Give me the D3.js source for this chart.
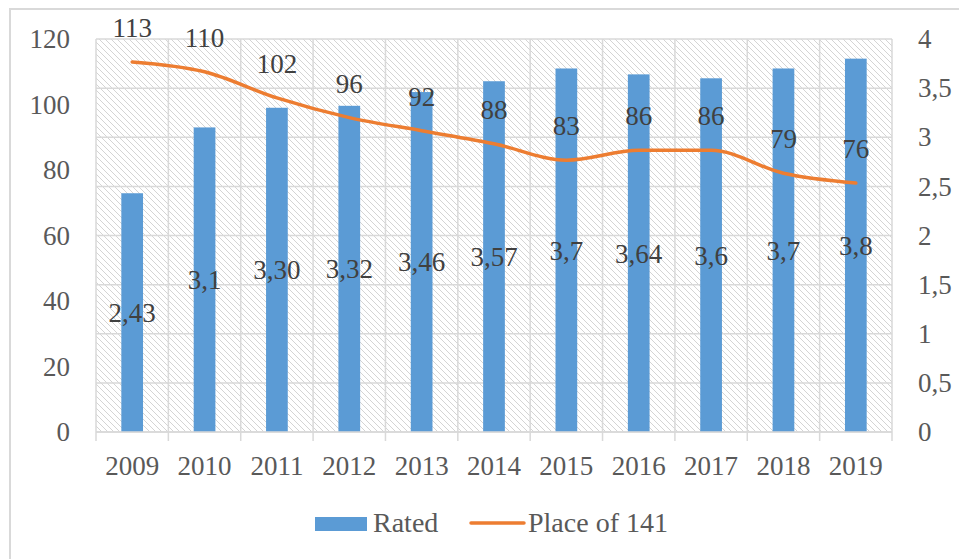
<!DOCTYPE html>
<html>
<head>
<meta charset="utf-8">
<script src="https://cdn.jsdelivr.net/npm/d3@7"></script>
<style>
  body { margin: 0; background: #fff; }
  svg { display: block; }
</style>
</head>
<body>
<svg id="chart" width="959" height="559"></svg>
<script>
// DATA
const years = ["2009", "2010", "2011", "2012", "2013", "2014", "2015", "2016", "2017", "2018", "2019"];
const rated = [2.43, 3.1, 3.30, 3.32, 3.46, 3.57, 3.7, 3.64, 3.6, 3.7, 3.8];
const ratedLabels = ["2,43", "3,1", "3,30", "3,32", "3,46", "3,57", "3,7", "3,64", "3,6", "3,7", "3,8"];
const place = [113, 110, 102, 96, 92, 88, 83, 86, 86, 79, 76];
const leftTicks = [0, 20, 40, 60, 80, 100, 120];
const rightTicks = [0, 0.5, 1, 1.5, 2, 2.5, 3, 3.5, 4];

// SETUP
const plot = { left: 96, right: 892, top: 39, bottom: 432 };
const blue = "#5b9bd5", orange = "#ed7d31", grid = "#d9d9d9";
const serifStyle = "font-family:'Liberation Serif'";

const svg = d3.select("#chart");

// hatch pattern for plot background
const defs = svg.append("defs");
defs.append("pattern")
    .attr("id", "hatch")
    .attr("patternUnits", "userSpaceOnUse")
    .attr("width", 6).attr("height", 6)
  .append("path")
    .attr("d", "M0,0 L6,6 M-1,5 L1,7 M5,-1 L7,1")
    .attr("stroke", "#d4d4d4")
    .attr("stroke-width", 1);

// outer border
svg.append("rect")
    .attr("x", 10).attr("y", 9)
    .attr("width", 1000).attr("height", 600)
    .attr("fill", "none")
    .attr("stroke", grid)
    .attr("stroke-width", 2);

// SCALES
const x = d3.scaleBand().domain(years).range([plot.left, plot.right]);
const yLeft = d3.scaleLinear().domain([0, 120]).range([plot.bottom, plot.top]);
const yRight = d3.scaleLinear().domain([0, 4]).range([plot.bottom, plot.top]);

// plot background
svg.append("rect")
    .attr("x", plot.left).attr("y", plot.top)
    .attr("width", plot.right - plot.left)
    .attr("height", plot.bottom - plot.top)
    .attr("fill", "url(#hatch)");

// GRIDLINES (follow the right axis)
svg.append("g").selectAll("line")
    .data(rightTicks)
    .join("line")
    .attr("x1", plot.left).attr("x2", plot.right)
    .attr("y1", d => yRight(d)).attr("y2", d => yRight(d))
    .attr("stroke", grid).attr("stroke-width", 1.5);

// vertical gridlines at category boundaries, extending down as ticks
const bounds = d3.range(years.length + 1).map(i => plot.left + i * x.step());
svg.append("g").selectAll("line")
    .data(bounds)
    .join("line")
    .attr("x1", d => d).attr("x2", d => d)
    .attr("y1", plot.top).attr("y2", plot.bottom + 9)
    .attr("stroke", grid).attr("stroke-width", 1.5);

// BARS
const barW = x.bandwidth() * 0.3;
svg.append("g").selectAll("rect")
    .data(rated)
    .join("rect")
    .attr("x", (d, i) => x(years[i]) + (x.bandwidth() - barW) / 2)
    .attr("y", d => yRight(d))
    .attr("width", barW)
    .attr("height", d => yRight(0) - yRight(d))
    .attr("fill", blue);

// LINE
const line = d3.line()
    .x((d, i) => x(years[i]) + x.bandwidth() / 2)
    .y(d => yLeft(d))
    .curve(d3.curveMonotoneX);

svg.append("path")
    .datum(place)
    .attr("d", line)
    .attr("fill", "none")
    .attr("stroke", orange)
    .attr("stroke-width", 3.5)
    .attr("stroke-linecap", "round");

// DATA LABELS
svg.append("g").selectAll("text")
    .data(rated)
    .join("text")
    .attr("style", serifStyle)
    .attr("x", (d, i) => x(years[i]) + x.bandwidth() / 2)
    .attr("y", d => (yRight(d) + yRight(0)) / 2)
    .attr("dy", "0.35em")
    .attr("text-anchor", "middle")
    .attr("font-size", 27)
    .attr("fill", "#404040")
    .text((d, i) => ratedLabels[i]);

svg.append("g").selectAll("text")
    .data(place)
    .join("text")
    .attr("style", serifStyle)
    .attr("x", (d, i) => x(years[i]) + x.bandwidth() / 2)
    .attr("y", d => yLeft(d) - 25)
    .attr("text-anchor", "middle")
    .attr("font-size", 27)
    .attr("fill", "#404040")
    .text(d => d);

// AXES
const axisLeft = svg.append("g")
    .attr("transform", `translate(${plot.left},0)`)
    .call(d3.axisLeft(yLeft).tickValues(leftTicks).tickSize(0).tickPadding(26));

const axisRight = svg.append("g")
    .attr("transform", `translate(${plot.right},0)`)
    .call(d3.axisRight(yRight).tickValues(rightTicks).tickSize(0).tickPadding(26)
        .tickFormat(d => String(d).replace(".", ",")));

const axisBottom = svg.append("g")
    .attr("transform", `translate(0,${plot.bottom})`)
    .call(d3.axisBottom(x).tickSize(0));

axisBottom.selectAll("text").attr("y", 43).attr("dy", 0);

[axisLeft, axisRight, axisBottom].forEach(g => {
    g.select(".domain").remove();
    g.attr("font-family", null).attr("font-size", 27);
    g.selectAll("text")
        .attr("style", serifStyle)
        .attr("fill", "#595959");
});
axisBottom.append("line")
    .attr("x1", plot.left).attr("x2", plot.right)
    .attr("stroke", grid).attr("stroke-width", 1.5);

// LEGEND
const legend = svg.append("g")
    .attr("font-size", 28)
    .attr("fill", "#595959");
legend.append("rect")
    .attr("x", 315).attr("y", 517)
    .attr("width", 52).attr("height", 14)
    .attr("fill", blue);
legend.append("text").attr("style", serifStyle)
    .attr("x", 373).attr("y", 532).text("Rated");
legend.append("line")
    .attr("x1", 471).attr("x2", 524)
    .attr("y1", 523).attr("y2", 523)
    .attr("stroke", orange).attr("stroke-width", 3.5)
    .attr("stroke-linecap", "round");
legend.append("text").attr("style", serifStyle)
    .attr("x", 528).attr("y", 532).text("Place of 141");
</script>
</body>
</html>
